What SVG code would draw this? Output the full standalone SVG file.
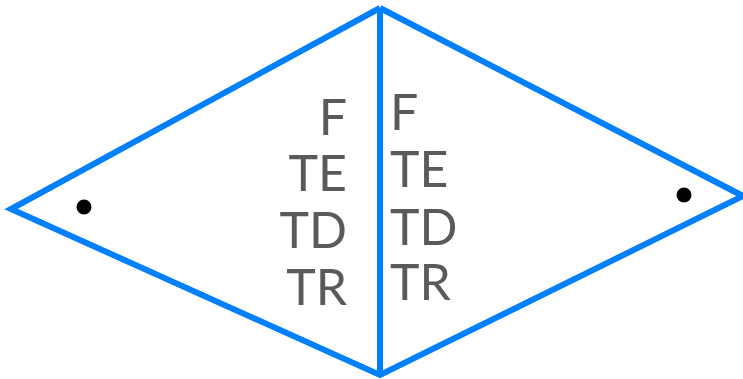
<svg xmlns="http://www.w3.org/2000/svg" width="743" height="379" viewBox="0 0 743 379">
<style>
.edge{fill:none;stroke:#0080ff;stroke-width:6;stroke-linejoin:miter}
.lbl{font-family:Lato,"Open Sans",sans-serif;font-size:50px;fill:#5a5a5a}
.r{text-anchor:end}
.dot{fill:#000}
</style>
<g id="connectors">
<polyline class="edge" points="380,8 11,209 380,375 743,196 380,8"/>
<line class="edge" x1="380" y1="8" x2="380" y2="375"/>
</g>
<g id="left-triangle">
<circle class="dot" cx="84" cy="207" r="7.5"/>
<text class="lbl r" x="347" y="135">F</text>
<text class="lbl r" x="347" y="191">TE</text>
<text class="lbl r" x="347" y="248">TD</text>
<text class="lbl r" x="347" y="305">TR</text>
</g>
<g id="right-triangle">
<circle class="dot" cx="684" cy="195" r="7.5"/>
<text class="lbl" x="390" y="130">F</text>
<text class="lbl" x="390" y="187">TE</text>
<text class="lbl" x="390" y="245">TD</text>
<text class="lbl" x="390" y="300">TR</text>
</g>
</svg>
